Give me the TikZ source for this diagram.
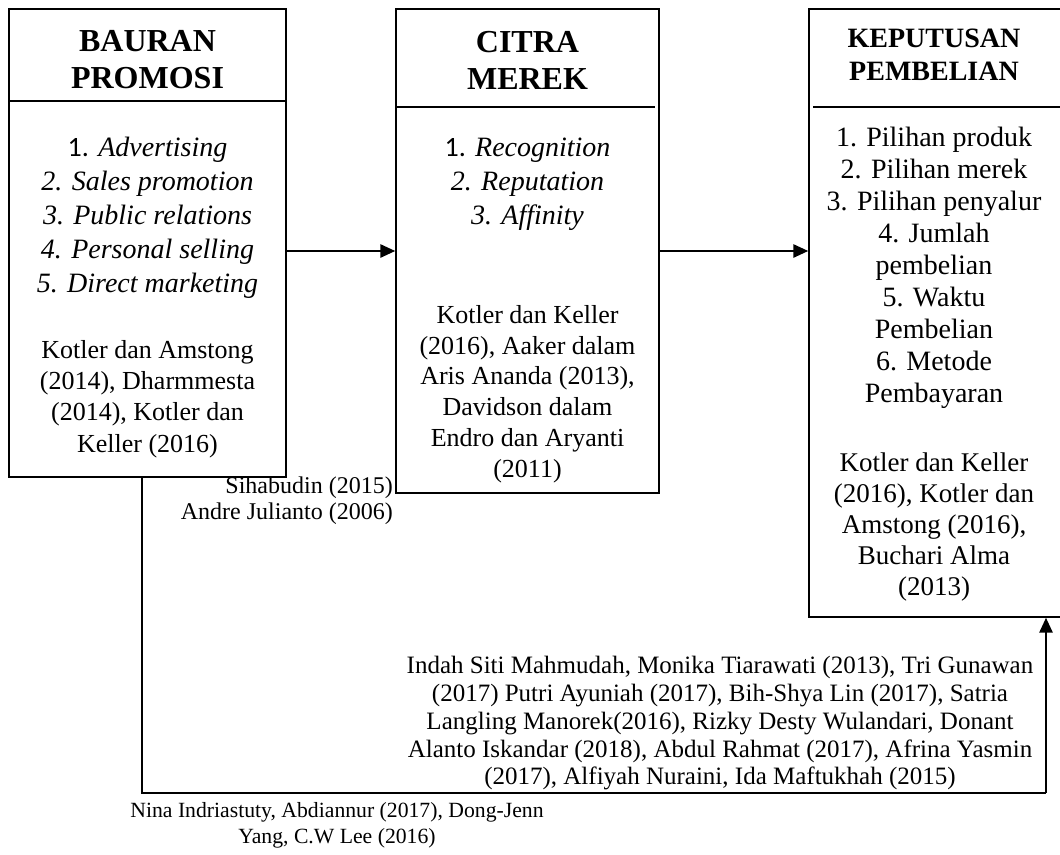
\documentclass[tikz,border=0pt]{standalone}
\usepackage{fontspec}
\setmainfont{Liberation Serif}
\newfontfamily\calib{Carlito}
\usetikzlibrary{arrows.meta}

\begin{document}
\begin{tikzpicture}[x=1pt,y=-1pt,
  box/.style 2 args={draw,line width=1.3pt,minimum width=#1,minimum height=#2,inner sep=0pt},
  title/.style={font=\bfseries\fontsize{32}{37}\selectfont,align=center,inner sep=0pt},
  item/.style={font=\fontsize{28}{34}\selectfont,align=center,inner sep=0pt},
  cite/.style={font=\fontsize{26}{31.3}\selectfont,align=center,inner sep=0pt},
  note/.style={font=\fontsize{24}{26}\selectfont,inner sep=0pt},
  divider/.style={line width=2.4pt},
  arr/.style={line width=2.7pt,-{Triangle[length=15pt,width=13pt]}},
  fbline/.style={line width=1.4pt}]
  \useasboundingbox (0,0) rectangle (1060,854);

  % boxes
  \node[box={277}{468}] (bp) at (147.5,243) {};
  \node[box={263}{484}] (cm) at (527.5,251) {};
  \node[box={255}{608}] (kp) at (936.5,313) {};
  \draw[divider] (bp.west |- 0,101) -- (bp.east |- 0,101);
  \draw[divider] (cm.west |- 0,107) -- (655,107);
  \draw[divider] (813,107) -- (kp.east |- 0,107);

  % bauran promosi
  \node[title] (bpt) at (147.5,60) {BAURAN\\PROMOSI};
  \node[item] (bpl) at (147.5,218) {{\calib 1.} \textit{Advertising}\\
    \textit{2. Sales promotion}\\\textit{3. Public relations}\\
    \textit{4. Personal selling}\\\textit{5. Direct marketing}};
  \node[cite] (bpc) at (147.5,399) {Kotler dan Amstong\\(2014), Dharmmesta\\
    (2014), Kotler dan\\Keller (2016)};

  % citra merek
  \node[title] (cmt) at (527.5,60) {CITRA\\MEREK};
  \node[item] (cml) at (527.5,184) {{\calib 1.} \textit{Recognition}\\
    \textit{2. Reputation}\\\textit{3. Affinity}};
  \node[cite,font=\fontsize{26}{30.8}\selectfont] (cmc) at (527.5,394)
    {Kotler dan Keller\\(2016), Aaker dalam\\Aris Ananda (2013),\\
    Davidson dalam\\Endro dan Aryanti\\(2011)};

  % keputusan pembelian
  \node[title,font=\bfseries\fontsize{28}{33}\selectfont] (kpt) at (934,55)
    {KEPUTUSAN\\PEMBELIAN};
  \node[item,font=\fontsize{28}{32}\selectfont] (kpl) at (934,268)
    {1. Pilihan produk\\2. Pilihan merek\\3. Pilihan penyalur\\4. Jumlah\\
    pembelian\\5. Waktu\\Pembelian\\6. Metode\\Pembayaran};
  \node[cite,font=\fontsize{27}{30.8}\selectfont] (kpc) at (934,527)
    {Kotler dan Keller\\(2016), Kotler dan\\Amstong (2016),\\Buchari Alma\\(2013)};

  % research notes
  \node[note,align=right,anchor=east] (sj) at (393,501)
    {Sihabudin (2015)\\Andre Julianto (2006)};
  \node[note,align=center,font=\fontsize{25}{27.75}\selectfont] (rf) at (720,723.5)
    {Indah Siti Mahmudah, Monika Tiarawati (2013), Tri Gunawan\\
    (2017) Putri Ayuniah (2017), Bih-Shya Lin (2017), Satria\\
    Langling Manorek(2016), Rizky Desty Wulandari, Donant\\
    Alanto Iskandar (2018), Abdul Rahmat (2017), Afrina Yasmin\\
    (2017), Alfiyah Nuraini, Ida Maftukhah (2015)};
  \node[note,align=center,font=\fontsize{21.7}{26}\selectfont] (nr) at (337,825)
    {Nina Indriastuty, Abdiannur (2017), Dong-Jenn\\Yang, C.W Lee (2016)};

  % connectors
  \coordinate (fb) at (1046,793);
  \draw[arr] (bp.east |- cm.west) -- (cm.west);
  \draw[arr] (cm.east) -- (cm.east -| kp.west);
  \draw[fbline] ([xshift=-5.5pt]bp.south) |- (fb);
  \draw[arr] (fb) -- (fb |- kp.south);
\end{tikzpicture}
\end{document}
